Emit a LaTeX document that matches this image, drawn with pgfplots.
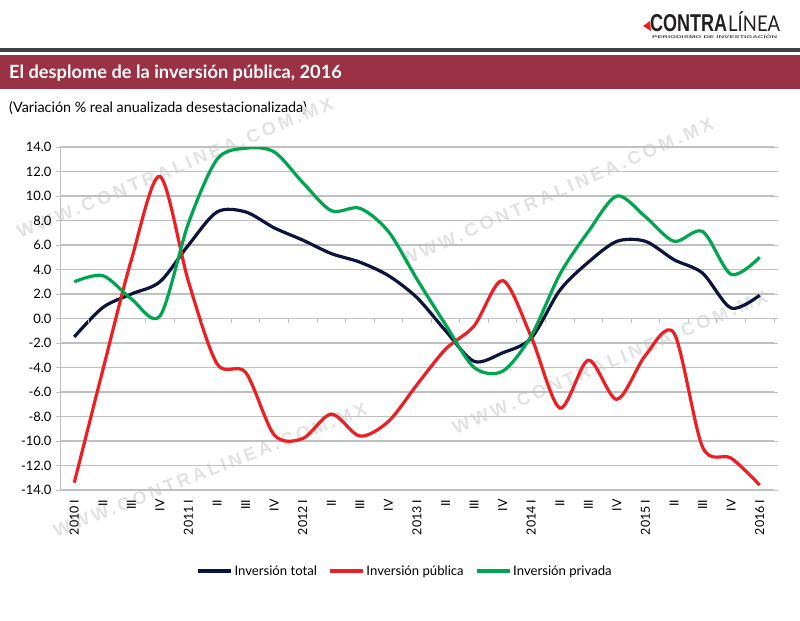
\documentclass[border=0pt]{standalone}
\usepackage{fontspec}
\setmainfont{Lato}
\newfontfamily\wmfont[LetterSpace=18]{Liberation Sans Bold}
\newfontfamily\logofont{Liberation Sans Bold}
\usepackage{graphicx}
\usepackage{pgfplots}
\pgfplotsset{compat=1.18}
\definecolor{navyc}{RGB}{13,20,60}
\definecolor{redc}{RGB}{236,32,36}
\definecolor{greenc}{RGB}{0,165,80}
\definecolor{maroonc}{RGB}{155,49,69}
\definecolor{gridc}{RGB}{192,192,192}
\definecolor{wm}{RGB}{226,226,226}
\definecolor{logoc}{RGB}{35,31,32}

\pgfplotstableread{
x total publica privada
0  -1.5  -13.4  3.0
1   0.9   -4.2  3.5
2   2.0    4.8  1.6
3   3.0   11.6  0.2
4   6.0    3.0  7.8
5   8.7   -3.7 13.0
6   8.7   -4.4 13.9
7   7.4   -9.5 13.6
8   6.4   -9.8 11.1
9   5.3   -7.8  8.8
10  4.6   -9.6  9.0
11  3.5   -8.4  7.1
12  1.7   -5.4  3.2
13 -1.0   -2.5 -0.5
14 -3.5   -0.6 -4.0
15 -2.8    3.1 -4.3
16 -1.6   -1.5 -1.4
17  2.3   -7.3  3.6
18  4.6   -3.4  7.1
19  6.3   -6.6 10.0
20  6.3   -3.0  8.3
21  4.8   -1.2  6.3
22  3.7  -10.5  7.1
23  0.85 -11.4  3.6
24  1.9  -13.6  5.0
}\datatable

\begin{document}
\begin{tikzpicture}
\path[fill=white,use as bounding box] (0,0) rectangle (800bp,-621bp);
\begin{scope}[x=1bp,y=-1bp]
  % header
  \fill[black!75] (0,47.5) rectangle (800,51.5);
  \fill[maroonc] (0,55) rectangle (800,89);
  \node[anchor=base west, text=white, inner sep=0] at (9,78)
    {\fontsize{18.3}{21}\selectfont\bfseries El desplome de la inversión pública, 2016};
  \node[anchor=base west, inner sep=0] at (9,112)
    {\fontsize{14.4}{16}\selectfont (Variación \% real anualizada desestacionalizada)};
  % logo
  \fill[redc] (643,26) -- (650,21) -- (651,31) -- cycle;
  \node[anchor=south west, inner sep=0, text=logoc] at (650,32)
    {\resizebox{77bp}{17bp}{\logofont CONTRA}};
  \node[anchor=south west, inner sep=0, text=logoc] at (728,32)
    {\resizebox{52bp}{20bp}{LÍNEA}};
  \node[anchor=north west, inner sep=0, text=black!70] at (652,35)
    {\resizebox{125bp}{3.5bp}{\logofont PERIODISMO DE INVESTIGACIÓN}};
  % watermarks
  \node[rotate=22.5, text=wm, inner sep=0] at (175,168) {\resizebox{340bp}{!}{\wmfont WWW.CONTRALINEA.COM.MX}};
  \node[rotate=24, text=wm, inner sep=0] at (557,192) {\resizebox{340bp}{!}{\wmfont WWW.CONTRALINEA.COM.MX}};
  \node[rotate=21.6, text=wm, inner sep=0] at (210,470) {\resizebox{335bp}{!}{\wmfont WWW.CONTRALINEA.COM.MX}};
  \node[rotate=23, text=wm, inner sep=0] at (610,362) {\resizebox{340bp}{!}{\wmfont WWW.CONTRALINEA.COM.MX}};
\end{scope}

\begin{axis}[
  at={(60bp,-490bp)}, anchor=south west,
  scale only axis, width=714bp, height=343bp,
  xmin=-0.5, xmax=24.5, ymin=-14, ymax=14,
  axis line style={draw=none},
  ymajorgrids, grid style={gridc, line width=1.1bp},
  ytick={-14,-12,...,14},
  ytick style={draw=gridc, line width=1bp},
  tick align=outside, major tick length=4bp,
  /pgf/number format/fixed, /pgf/number format/fixed zerofill,
  /pgf/number format/precision=1, /pgf/number format/assume math mode=true,
  yticklabel style={font=\fontsize{13}{15}\selectfont, xshift=-1bp},
  xtick={0,...,24},
  xtick style={draw=none},
  xticklabels={2010 I,II,III,IV,2011 I,II,III,IV,2012 I,II,III,IV,2013 I,II,III,IV,2014 I,II,III,IV,2015 I,II,III,IV,2016 I},
  xticklabel style={rotate=90, anchor=east, font=\fontsize{12.5}{14}\selectfont, xshift=-2bp},
  legend columns=3,
  legend style={at={(axis description cs:0.483,-0.236)}, anchor=center, draw=none, fill=none,
    font=\fontsize{13.2}{15}\selectfont,
    /tikz/every even column/.append style={column sep=10bp},
    nodes={inner sep=1.5bp}},
  legend image code/.code={\draw[#1, line width=3.5bp] (0bp,0bp) -- (33bp,0bp);},
  every axis plot/.append style={line width=3.2bp, smooth, no markers},
]
\addplot[navyc] table[x=x, y=total] {\datatable};
\addlegendentry{Inversión total}
\addplot[redc] table[x=x, y=publica] {\datatable};
\addlegendentry{Inversión pública}
\addplot[greenc] table[x=x, y=privada] {\datatable};
\addlegendentry{Inversión privada}
\end{axis}

\begin{scope}[x=1bp,y=-1bp]
  \draw[gridc, line width=1bp] (60,146.7) -- (60,490.5);
  \foreach \k in {0,...,25}{\draw[gridc, line width=1bp] ({60+714/25*\k},318.7) -- ++(0,4);}
\end{scope}
\end{tikzpicture}
\end{document}
